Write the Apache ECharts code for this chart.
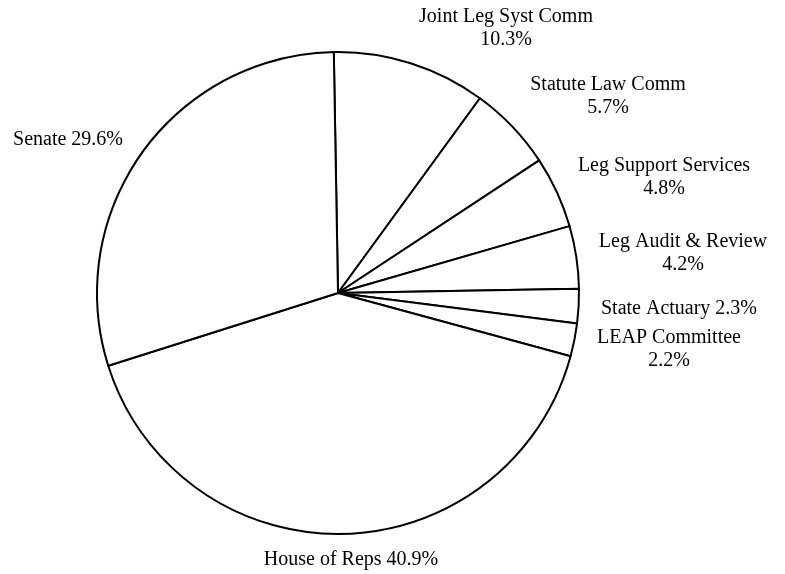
<!DOCTYPE html>
<html>
<head>
<meta charset="utf-8">
<script src="https://cdn.jsdelivr.net/npm/echarts@6/dist/echarts.min.js"></script>
<style>
  html, body { margin: 0; padding: 0; background: #fff; }
  #chart { width: 785px; height: 574px; }
</style>
</head>
<body>
<div id="chart"></div>
<script>
// Budget share by unit (percent of total)
const units = [
  'Joint Leg Syst Comm',
  'Statute Law Comm',
  'Leg Support Services',
  'Leg Audit & Review',
  'State Actuary',
  'LEAP Committee',
  'House of Reps',
  'Senate'
];
const shares = [10.3, 5.7, 4.8, 4.2, 2.3, 2.2, 40.9, 29.6];
// whether the percentage goes on its own line under the name
const wrapLabel = [true, true, true, true, false, true, false, false];

// label centres, as offsets from the pie centre
const pieCenter = [338, 293];
const labelOffsets = [
  [168, -264.5],
  [270, -196.5],
  [326, -116],
  [345, -40],
  [341, 16],
  [331, 56],
  [13, 267],
  [-270, -153]
];

const chart = echarts.init(document.getElementById('chart'), null, { renderer: 'canvas' });

chart.setOption({
  backgroundColor: '#ffffff',
  animation: false,
  series: [{
    type: 'pie',
    center: pieCenter,
    radius: 241,
    startAngle: 91,
    clockwise: true,
    avoidLabelOverlap: false,
    silent: true,
    data: units.map((name, i) => ({ name: name, value: shares[i] })),
    itemStyle: {
      color: '#ffffff',
      borderColor: '#000000',
      borderWidth: 2
    },
    label: {
      show: true,
      position: 'outside',
      fontFamily: '"Liberation Serif", "Times New Roman", serif',
      fontSize: 20,
      lineHeight: 23,
      color: '#000000',
      formatter: (p) => p.name + (wrapLabel[p.dataIndex] ? '\n' : ' ') + p.value.toFixed(1) + '%'
    },
    labelLine: { show: false },
    labelLayout: (p) => ({
      x: pieCenter[0] + labelOffsets[p.dataIndex][0],
      y: pieCenter[1] + labelOffsets[p.dataIndex][1],
      align: 'center',
      verticalAlign: 'middle'
    }),
    emphasis: { disabled: true }
  }]
});
</script>
</body>
</html>
